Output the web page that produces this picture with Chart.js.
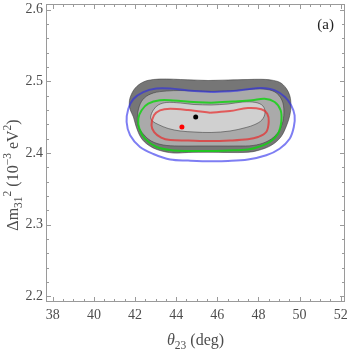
<!DOCTYPE html>
<html>
<head>
<meta charset="utf-8">
<script src="https://cdn.jsdelivr.net/npm/chart.js@4.4.1/dist/chart.umd.min.js"></script>
<style>
  html, body { margin: 0; padding: 0; background: #fff; }
</style>
</head>
<body>
<canvas id="chartContornos" width="349" height="350"></canvas>
<script>
// ticks de los ejes
const xTicks = [38, 40, 42, 44, 46, 48, 50, 52];
const yTicks = [2.2, 2.3, 2.4, 2.5, 2.6];

// regiones grises (de fuera hacia dentro) - [theta23, dm31]
const darkRegion = [[45.55,2.5012],[46.52,2.5019],[47.49,2.5026],[48.12,2.5029],[48.61,2.5019],[49.05,2.4984],[49.34,2.4907],[49.53,2.4796],[49.58,2.4656],[49.53,2.4530],[49.38,2.4391],[49.09,2.4223],[48.61,2.4105],[47.98,2.4035],[47.49,2.4010],[46.52,2.4007],[45.55,2.4010],[44.58,2.4007],[43.86,2.4000],[43.13,2.4042],[42.64,2.4112],[42.30,2.4209],[42.06,2.4363],[41.92,2.4503],[41.77,2.4600],[41.72,2.4684],[41.77,2.4782],[42.01,2.4907],[42.40,2.4991],[42.89,2.5026],[43.52,2.5033],[44.20,2.5026],[44.87,2.5019],[45.55,2.5012]];
const midRegion = [[45.55,2.4859],[46.52,2.4865],[47.49,2.4886],[48.22,2.4893],[48.80,2.4852],[49.14,2.4740],[49.24,2.4572],[49.14,2.4391],[48.85,2.4251],[48.37,2.4154],[47.74,2.4105],[47.01,2.4098],[46.04,2.4098],[45.07,2.4098],[44.10,2.4098],[43.37,2.4112],[42.79,2.4167],[42.40,2.4265],[42.16,2.4377],[42.11,2.4489],[42.21,2.4656],[42.45,2.4768],[42.89,2.4838],[43.52,2.4865],[44.20,2.4872],[44.87,2.4865],[45.55,2.4859]];
const lightRegion = [[45.70,2.4670],[46.52,2.4684],[47.25,2.4712],[47.88,2.4705],[48.22,2.4656],[48.32,2.4559],[48.17,2.4461],[47.83,2.4398],[47.40,2.4356],[46.62,2.4307],[45.70,2.4286],[44.87,2.4293],[44.20,2.4307],[43.61,2.4342],[43.13,2.4398],[42.84,2.4447],[42.76,2.4503],[42.89,2.4600],[43.13,2.4670],[43.52,2.4705],[44.20,2.4698],[44.87,2.4677],[45.70,2.4670]];

// contornos de colores
const blueContour = [[45.70,2.4851],[46.77,2.4865],[47.49,2.4889],[48.12,2.4907],[48.80,2.4875],[49.29,2.4782],[49.59,2.4666],[49.76,2.4526],[49.72,2.4363],[49.52,2.4200],[49.03,2.4060],[48.38,2.3968],[47.49,2.3909],[46.52,2.3888],[45.70,2.3884],[44.58,2.3895],[43.71,2.3909],[42.89,2.3986],[42.24,2.4084],[41.76,2.4247],[41.59,2.4433],[41.67,2.4614],[41.92,2.4754],[42.40,2.4851],[43.03,2.4900],[43.71,2.4900],[44.58,2.4872],[45.70,2.4851]];
const greenContour = [[45.70,2.4702],[46.77,2.4719],[47.69,2.4736],[48.30,2.4758],[48.79,2.4712],[49.08,2.4596],[49.11,2.4433],[48.95,2.4269],[48.55,2.4154],[47.98,2.4084],[47.49,2.4049],[46.52,2.4035],[45.70,2.4028],[44.58,2.4028],[43.86,2.4035],[43.05,2.4084],[42.48,2.4200],[42.21,2.4340],[42.16,2.4479],[42.32,2.4596],[42.64,2.4688],[43.21,2.4736],[43.86,2.4733],[44.83,2.4712],[45.70,2.4702]];
const redContour = [[45.65,2.4563],[46.62,2.4586],[47.49,2.4628],[48.14,2.4610],[48.43,2.4549],[48.50,2.4433],[48.38,2.4293],[47.98,2.4223],[47.49,2.4191],[46.62,2.4174],[45.65,2.4167],[44.58,2.4174],[43.71,2.4181],[43.27,2.4216],[42.93,2.4293],[42.80,2.4387],[42.92,2.4526],[43.21,2.4596],[43.71,2.4618],[44.58,2.4600],[45.65,2.4563]];

// puntos de mejor ajuste
const blackPoint = [[44.95, 2.4503]];
const redPoint = [[44.28, 2.4363]];

const toXY = arr => arr.map(p => ({ x: p[0], y: p[1] }));

const FUENTE = "'Liberation Serif', 'Times New Roman', serif";
const GRIS = "#4d4d4d";

// ===========================
// marco con ticks hacia dentro + títulos con sub/superíndices
// ===========================
function textoPartes(ctx, partes, x, y) {
    // partes: [texto, tamaño, desplazamiento vertical, cursiva]
    let total = 0;
    partes.forEach(p => {
        ctx.font = (p[3] ? "italic " : "") + p[1] + "px " + FUENTE;
        total += ctx.measureText(p[0]).width;
    });
    let cx = x - total / 2;
    partes.forEach(p => {
        ctx.font = (p[3] ? "italic " : "") + p[1] + "px " + FUENTE;
        ctx.fillText(p[0], cx, y + p[2]);
        cx += ctx.measureText(p[0]).width;
    });
}

const marcoPlugin = {
    id: "marco",
    afterDraw(chart) {
        const ctx = chart.ctx;
        const a = chart.chartArea;
        const sx = chart.scales.x, sy = chart.scales.y;
        ctx.save();
        ctx.strokeStyle = "#9a9a9a";
        ctx.lineWidth = 1;
        ctx.strokeRect(a.left + 0.5, a.top + 0.5, a.right - a.left - 1, a.bottom - a.top - 1);

        ctx.beginPath();
        for (let v = 38; v <= 52.001; v += 0.5) {
            const px = Math.round(sx.getPixelForValue(v)) + 0.5;
            const len = xTicks.includes(Math.round(v * 10) / 10) ? 5 : 3;
            ctx.moveTo(px, a.bottom); ctx.lineTo(px, a.bottom - len);
            ctx.moveTo(px, a.top); ctx.lineTo(px, a.top + len);
        }
        for (let k = 0; k <= 20; k++) {
            const v = 2.2 + k * 0.02;
            const py = Math.round(sy.getPixelForValue(v)) + 0.5;
            const len = k % 5 === 0 ? 5 : 3;
            ctx.moveTo(a.left, py); ctx.lineTo(a.left + len, py);
            ctx.moveTo(a.right, py); ctx.lineTo(a.right - len, py);
        }
        ctx.stroke();

        ctx.fillStyle = GRIS;
        ctx.textBaseline = "alphabetic";
        ctx.textAlign = "left";
        textoPartes(ctx, [["θ", 16, 0, true], ["23", 11.5, 3.5, false], [" (deg)", 16, 0, false]], (a.left + a.right) / 2, 345);

        ctx.translate(18, 175);
        ctx.rotate(-Math.PI / 2);
        textoPartes(ctx, [["Δm", 16, 0, false], ["31", 11.5, 3.5, false], ["2", 11.5, -7, false],
            [" (10", 16, 0, false], ["−3", 11.5, -7, false], [" eV", 16, 0, false], ["2", 11.5, -7, false], [")", 16, 0, false]], 0, 0);
        ctx.restore();

        ctx.save();
        ctx.fillStyle = "#222";
        ctx.font = "15px " + FUENTE;
        ctx.textAlign = "right";
        ctx.fillText("(a)", 334, 29);
        ctx.restore();
    }
};

function region(data, color, orden) {
    return {
        data: toXY(data), showLine: true, fill: "shape", tension: 0.35,
        backgroundColor: color, borderColor: "rgba(60,60,60,0.7)", borderWidth: 0.8,
        pointRadius: 0, order: orden
    };
}

function contorno(data, color, orden) {
    return {
        data: toXY(data), showLine: true, fill: false, tension: 0.35,
        borderColor: color, borderWidth: 2, pointRadius: 0, order: orden
    };
}

const ctx = document.getElementById("chartContornos").getContext("2d");

new Chart(ctx, {
    type: "scatter",
    data: {
        datasets: [
            { data: toXY(blackPoint), pointRadius: 2.5, backgroundColor: "#000", borderWidth: 0, order: 0 },
            { data: toXY(redPoint), pointRadius: 2.5, backgroundColor: "#ff0000", borderWidth: 0, order: 0 },
            contorno(redContour, "rgba(232,40,40,0.7)", 1),
            contorno(greenContour, "rgba(20,210,20,0.85)", 2),
            contorno(blueContour, "rgba(40,40,235,0.6)", 3),
            region(lightRegion, "rgb(208,208,208)", 4),
            region(midRegion, "rgb(170,170,170)", 5),
            region(darkRegion, "rgb(118,118,118)", 6)
        ]
    },
    options: {
        responsive: false,
        animation: false,
        layout: { padding: { top: 4, right: 3, left: 0, bottom: 0 } },
        plugins: {
            legend: { display: false },
            tooltip: { enabled: false }
        },
        scales: {
            x: {
                type: "linear", min: 37.67, max: 52.21,
                grid: { display: false, drawTicks: false },
                border: { display: false },
                afterBuildTicks: s => { s.ticks = xTicks.map(v => ({ value: v })); },
                afterFit: s => { s.height = 48; s.paddingLeft = 0; s.paddingRight = 0; },
                ticks: {
                    padding: 5, color: GRIS, autoSkip: false, maxRotation: 0,
                    font: { family: FUENTE, size: 14 },
                    callback: v => String(v)
                }
            },
            y: {
                type: "linear", min: 2.192, max: 2.608,
                grid: { display: false, drawTicks: false },
                border: { display: false },
                afterBuildTicks: s => { s.ticks = yTicks.map(v => ({ value: v })); },
                afterFit: s => { s.width = 46; s.paddingTop = 0; s.paddingBottom = 0; },
                ticks: {
                    padding: 3, color: GRIS, autoSkip: false,
                    font: { family: FUENTE, size: 14 },
                    callback: v => v.toFixed(1)
                }
            }
        }
    },
    plugins: [marcoPlugin]
});
</script>
</body>
</html>
